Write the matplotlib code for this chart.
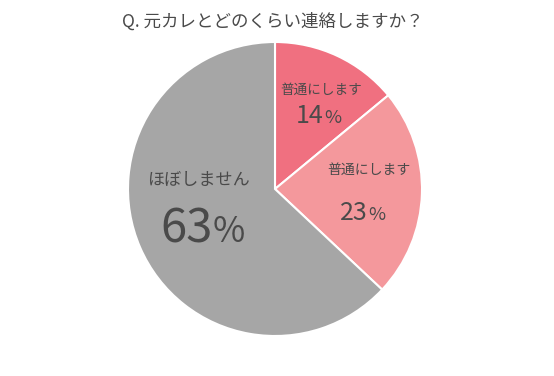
import matplotlib
matplotlib.use("Agg")
import matplotlib.pyplot as plt

plt.rcParams['font.family'] = ['Noto Sans CJK JP', 'DejaVu Sans']

title = "Q. 元カレとどのくらい連絡しますか？"
categories = ["普通にします", "普通にします", "ほぼしません"]
values = [14, 23, 63]
colors = ["#F07080", "#F4989C", "#A6A6A6"]

# layout (data coords within unit pie)
cat_pos = [(0.313, 0.677), (0.636, 0.129), (-0.520, 0.061)]
num_pos = [(0.330, 0.449), (0.629, -0.211), (-0.425, -0.361)]
cat_size = [9.8, 10.0, 12.3]
num_size = [18, 18, 34]

W, H = 554, 376
fig = plt.figure(figsize=(W / 100, H / 100), dpi=100)
fig.patch.set_facecolor("white")
cx, cy, r = 275, 189, 147
ax = fig.add_axes([(cx - r) / W, (H - cy - r) / H, 2 * r / W, 2 * r / H])
ax.pie(values, colors=colors, startangle=90, counterclock=False,
       wedgeprops=dict(edgecolor="white", linewidth=1.5), radius=1)
ax.set_xlim(-1, 1)
ax.set_ylim(-1, 1)
ax.set_aspect("equal")
ax.axis("off")

tc = "#4a4a4a"
for c, v, cp, npos, cs, ns in zip(categories, values, cat_pos, num_pos, cat_size, num_size):
    ax.text(cp[0], cp[1], c, ha="center", va="center", fontsize=cs, color=tc)
    ax.text(npos[0], npos[1], str(v), ha="right", va="baseline", fontsize=ns, color=tc)
    ax.text(npos[0] + 0.004, npos[1], "%", ha="left", va="baseline",
            fontsize=ns * 0.74, color=tc)

fig.text(272.5 / W, 1 - 22 / H, title, ha="center", va="center", fontsize=12.6, color="#4a4a4a")

fig.savefig("out.png", dpi=100, facecolor="white")
